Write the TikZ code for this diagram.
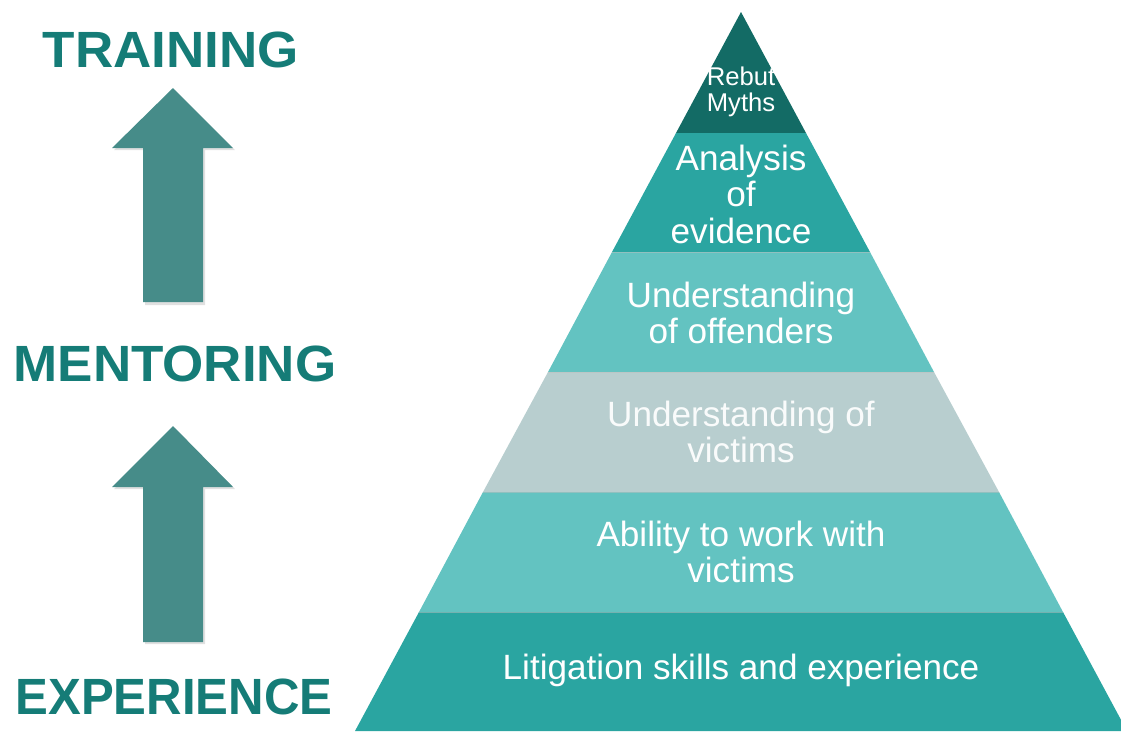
\documentclass[tikz,border=0pt]{standalone}
\usepackage{fontspec}
\setmainfont{Liberation Sans}
\usepackage{xcolor}
\usepackage{tikz}

\definecolor{labelteal}{HTML}{157C77}
\definecolor{arrowteal}{HTML}{468C89}
\definecolor{tealdark}{HTML}{136B65}
\definecolor{tealmid}{HTML}{2AA5A1}
\definecolor{teallight}{HTML}{63C3C1}
\definecolor{greyblue}{HTML}{B8CECF}

\begin{document}
\begin{tikzpicture}[x=0.02cm, y=-0.02cm,
  layertext/.style={text=white, align=center, inner sep=0pt,
    font=\fontsize{20}{20.8}\selectfont},
  sidelabel/.style={text=labelteal, inner sep=0pt,
    font=\bfseries\fontsize{29}{30}\selectfont},
  sepline/.style={line width=0.5pt, draw=black!25, opacity=0.5}]

\useasboundingbox (0,0) rectangle (1121,731);
\clip (0,0) rectangle (1121,731);

% Pyramid layers
\fill[tealdark] (741,12) -- (806,133) -- (676,133) -- cycle;
\fill[tealmid] (676,133) -- (806,133) -- (870,252) -- (612,252) -- cycle;
\fill[teallight] (612,252) -- (870,252) -- (934,372) -- (548,372) -- cycle;
\fill[greyblue] (548,372) -- (934,372) -- (999,492) -- (483,492) -- cycle;
\fill[teallight] (483,492) -- (999,492) -- (1063,612) -- (419,612) -- cycle;
\fill[tealmid] (419,612) -- (1063,612) -- (1127,731) -- (355,731) -- cycle;

% Layer borders
\draw[sepline] (612,252) -- (870,252);
\draw[sepline] (548,372) -- (934,372);
\draw[sepline] (483,492) -- (999,492);
\draw[sepline] (419,612) -- (1063,612);

% Layer texts
\node[layertext, font=\fontsize{14.6}{14.8}\selectfont] (myths) at (741,92) {Rebut\\Myths};
\node[layertext] (evidence) at (741,194) {Analysis\\of\\evidence};
\node[layertext] (offenders) at (741,313) {Understanding\\of offenders};
\node[layertext, text=white!92!greyblue] (victims) at (741,432) {Understanding of\\victims};
\node[layertext] (ability) at (741,552) {Ability to work with\\victims};
\node[layertext] (litigation) at (741,670) {Litigation skills and experience};

% Arrow shadows
\fill[black!12] (175,90) -- (235,150) -- (205,150) -- (205,305) -- (145,305) -- (145,150) -- (114,150) -- cycle;
\fill[black!12] (175,428) -- (235,489) -- (205,489) -- (205,644) -- (145,644) -- (145,489) -- (114,489) -- cycle;

% Arrows
\fill[arrowteal] (173,88) -- (233,148) -- (203,148) -- (203,302) -- (143,302) -- (143,148) -- (112,148) -- cycle;
\fill[arrowteal] (173,426) -- (233,487) -- (203,487) -- (203,642) -- (143,642) -- (143,487) -- (112,487) -- cycle;

% Side labels
\node[sidelabel, xscale=1.04] (training) at (171,50) {TRAINING};
\node[sidelabel, xscale=1.04] (mentoring) at (175,364) {MENTORING};
\node[sidelabel, xscale=0.965] (experience) at (174,697) {EXPERIENCE};

\end{tikzpicture}
\end{document}
